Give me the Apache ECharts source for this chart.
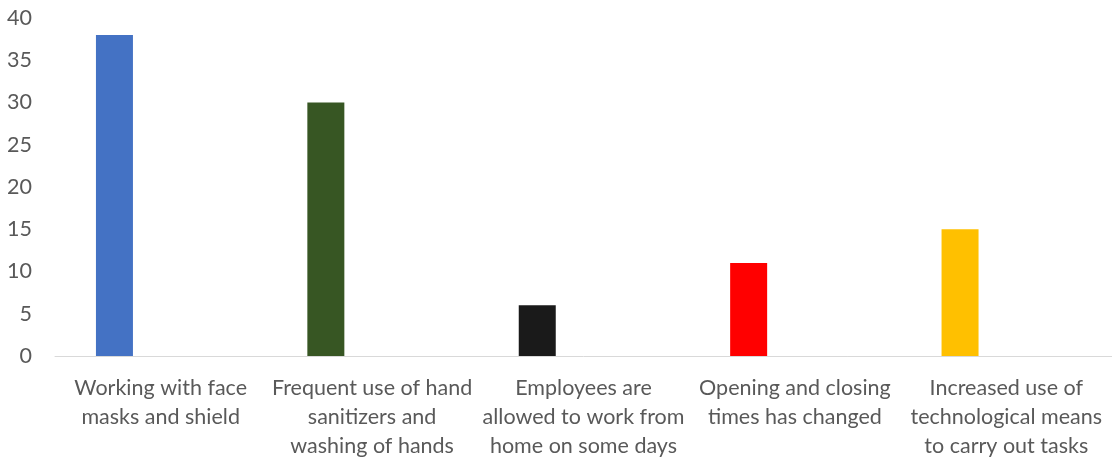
<!DOCTYPE html>
<html>
<head>
<meta charset="utf-8">
<script src="https://cdn.jsdelivr.net/npm/echarts@6/dist/echarts.min.js"></script>
<style>html,body{margin:0;padding:0;background:#fff}#c{width:1112px;height:461px}</style>
</head>
<body>
<div id="c"></div>
<script>
const categories = [
  "Working with face\nmasks and shield",
  "Frequent use of hand\nsanitizers and\nwashing of hands",
  "Employees are\nallowed to work from\nhome on some days",
  "Opening and closing\ntimes has changed",
  "Increased use of\ntechnological means\nto carry out tasks"
];
const values = [38, 30, 6, 11, 15];
const colors = ["#4472C4", "#375623", "#1A1A1A", "#FF0000", "#FFC000"];
const yTicks = { min: 0, max: 40, interval: 5 };

const chart = echarts.init(document.getElementById('c'), null, { renderer: 'canvas' });
chart.setOption({
  animation: false,
  backgroundColor: '#ffffff',
  textStyle: { fontFamily: 'Lato' },
  grid: { left: 55, right: 0, top: 18, bottom: 104, containLabel: false },
  xAxis: {
    type: 'category',
    data: categories,
    axisLine: { show: true, lineStyle: { color: '#D9D9D9', width: 1 } },
    axisTick: { show: false },
    axisLabel: {
      interval: 0, color: '#595959', fontSize: 21.5, lineHeight: 29, margin: 18,
      fontFamily: 'Lato'
    }
  },
  yAxis: {
    type: 'value',
    min: yTicks.min, max: yTicks.max, interval: yTicks.interval,
    axisLine: { show: false },
    axisTick: { show: false },
    splitLine: { show: false },
    axisLabel: { color: '#595959', fontSize: 21.5, margin: 23, fontFamily: 'Lato' }
  },
  series: [
    {
      type: 'bar',
      barWidth: 37,
      barGap: '150%',
      data: values.map((v, i) => ({ value: v, itemStyle: { color: colors[i] } }))
    },
    {
      type: 'bar',
      barWidth: 37,
      data: values.map(() => null)
    }
  ]
});
</script>
</body>
</html>
